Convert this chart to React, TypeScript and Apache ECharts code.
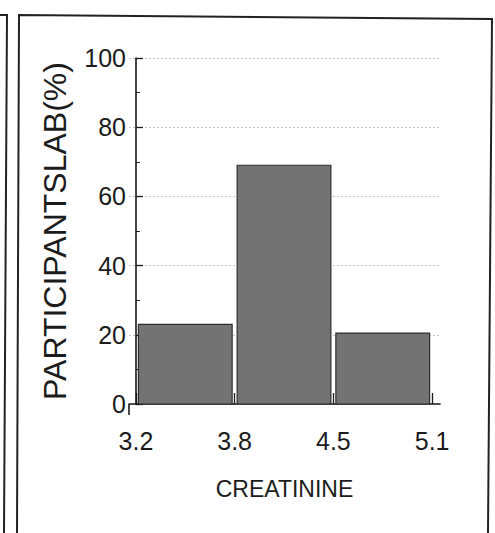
import React, { useEffect, useRef } from "react";
import * as echarts from "echarts";

const binEdgeLabels = ["3.2", "3.8", "4.5", "5.1"];
const binIndex = [0, 1, 2];
const participantsPct = [23, 69, 20.5];
const yTickValues = [0, 20, 40, 60, 80, 100];
const xAxisTitle = "CREATININE";
const yAxisTitle = "PARTICIPANTSLAB(%)";

export default function App() {
  const ref = useRef<HTMLDivElement>(null);
  useEffect(() => {
    if (!ref.current) return;
    const chart = echarts.init(ref.current, null, { renderer: "svg" });
    const textColor = "#1c1c1c";
    const font = "'Liberation Sans Narrow', 'Liberation Sans', Arial, sans-serif";
    const option: any = {
      animation: false,
      backgroundColor: "#ffffff",
      grid: { left: 129, right: 55, top: 58, bottom: 129, containLabel: false },
      xAxis: {
        type: "value",
        min: -0.07,
        max: 3.08,
        offset: 11,
        axisLine: { show: true, lineStyle: { color: "#1a1a1a", width: 1.6 } },
        axisTick: {
          show: true,
          inside: true,
          length: 11,
          customValues: binEdgeLabels.map((_, i) => i),
          lineStyle: { color: "#1a1a1a", width: 1.3 },
        },
        axisLabel: {
          show: true,
          customValues: binEdgeLabels.map((_, i) => i),
          formatter: (v: number) => binEdgeLabels[Math.round(v)] ?? "",
          fontFamily: font,
          fontSize: 25,
          color: textColor,
          margin: 13,
        },
        splitLine: { show: false },
        name: xAxisTitle,
        nameLocation: "middle",
        nameGap: 62,
        nameTextStyle: { fontFamily: font, fontSize: 23, color: textColor },
      },
      yAxis: {
        type: "value",
        min: 0,
        max: 100,
        interval: 20,
        axisLine: { show: true, lineStyle: { color: "#1a1a1a", width: 1.6 } },
        axisTick: { show: true, inside: true, length: 7, lineStyle: { color: "#1a1a1a", width: 1.3 } },
        minorTick: { show: true, splitNumber: 2, length: 4, lineStyle: { color: "#1a1a1a", width: 1 } },
        axisLabel: {
          show: true,
          fontFamily: font,
          fontSize: 25,
          color: textColor,
          margin: 3,
          customValues: yTickValues,
        },
        splitLine: {
          show: true,
          lineStyle: { color: "#c4c4c4", width: 1, type: [2, 2] },
        },
        name: yAxisTitle,
        nameLocation: "middle",
        nameGap: 58,
        nameRotate: 90,
        nameTextStyle: { fontFamily: "'Liberation Sans', Arial, sans-serif", fontSize: 32, color: textColor },
      },
      graphic: [
        {
          type: "polyline",
          shape: { points: [[17, 533], [19, 15], [492, 19], [488, 533]] },
          style: { stroke: "#222", lineWidth: 2, fill: null },
          silent: true,
        },
        {
          type: "polyline",
          shape: { points: [[0, 15], [7, 15], [4, 533]] },
          style: { stroke: "#222", lineWidth: 2, fill: null },
          silent: true,
        },
        {
          type: "line",
          shape: { x1: 129, y1: 404, x2: 129, y2: 415 },
          style: { stroke: "#1a1a1a", lineWidth: 1.6 },
          silent: true,
        },
      ],
      series: [
        {
          type: "custom",
          data: binIndex.map((i) => [i, participantsPct[i]]),
          encode: { x: 0, y: 1 },
          z: 3,
          renderItem: (params: any, api: any) => {
            const i = api.value(0);
            const v = api.value(1);
            const p0 = api.coord([i, v]);
            const p1 = api.coord([i + 1, 0]);
            return {
              type: "rect",
              shape: { x: p0[0] + 2.5, y: p0[1], width: p1[0] - p0[0] - 5, height: p1[1] - p0[1] },
              style: { fill: "#737373", stroke: "#2e2e2e", lineWidth: 1.2 },
            };
          },
        },
      ],
    };
    chart.setOption(option);
    return () => chart.dispose();
  }, []);
  return (
    <div
      ref={ref}
      style={{ position: "fixed", left: 0, top: 0, width: 495, height: 533, background: "#fff" }}
    />
  );
}
